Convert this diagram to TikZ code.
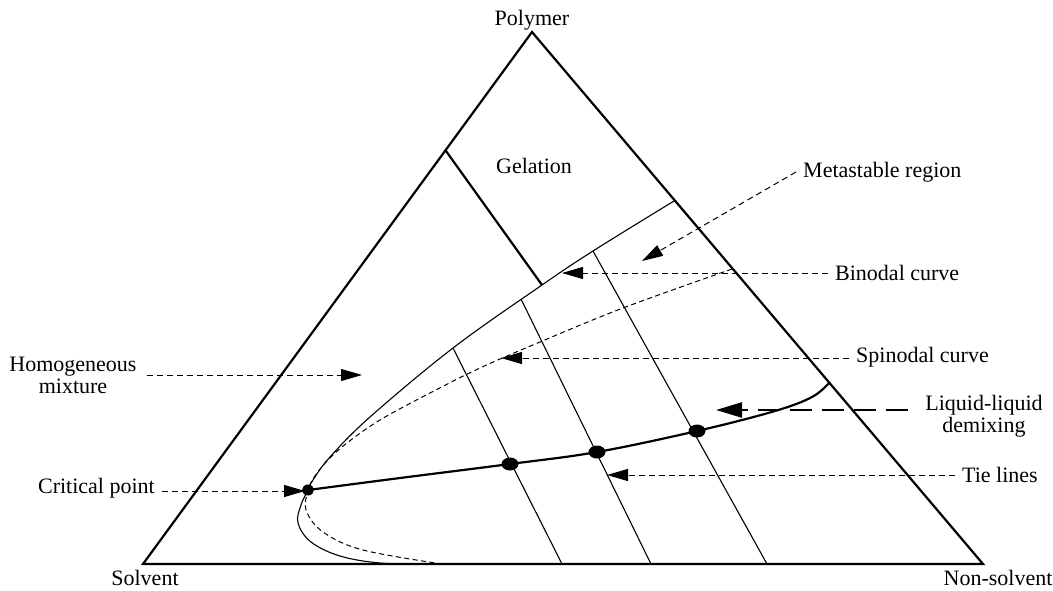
\documentclass[tikz,border=0pt]{standalone}
\usepackage{fontspec}
\setmainfont{Liberation Serif}
\usetikzlibrary{arrows.meta}
\begin{document}
\begin{tikzpicture}[x=1pt,y=-1pt,
  lbl/.style={font=\fontsize{22}{22}\selectfont, inner sep=7pt},
  sidel/.style={line width=2.2pt, line join=miter},
  thinl/.style={line width=1.1pt},
  darrow/.style={line width=1pt, dash pattern=on 6pt off 4pt, -{Triangle[length=21pt,width=12pt]}},
  bigarrow/.style={line width=2.4pt, dash pattern=on 22pt off 10pt, -{Triangle[length=26pt,width=15pt]}}
]
\useasboundingbox (0,0) rectangle (1053,590);
% vertices
\coordinate (P) at (532,32);
\coordinate (S) at (143,564);
\coordinate (N) at (983,564);
\draw[sidel] (S) -- (P) -- (N) -- cycle;
% gelation line
\coordinate (g1) at (446,151);
\coordinate (g2) at (542,285);
\draw[sidel] (g1) -- (g2);
% binodal curve
\draw[thinl] plot[smooth, tension=0.6] coordinates {(674,201) (593,251) (542,285) (453,348) (370,417) (330,457) (313,480) (308,490) (301,505) (298,523) (311,542) (340,556) (380,563) (428,564)};
% spinodal curve
\draw[line width=1pt, dash pattern=on 5pt off 3.5pt] plot[smooth, tension=0.6] coordinates {(732,269) (623,308) (540,342) (480,368) (430,393) (380,420) (347,443) (327,461) (313,479) (308,491) (306,510) (323,532) (363,550) (442,564)};
% tie lines
\coordinate (t1a) at (453,348); \coordinate (t1b) at (562,564);
\coordinate (t2a) at (521,299); \coordinate (t2b) at (651,564);
\coordinate (t3a) at (593,251); \coordinate (t3b) at (767,564);
\draw[thinl] (t1a) -- (t1b);
\draw[thinl] (t2a) -- (t2b);
\draw[thinl] (t3a) -- (t3b);
% liquid-liquid demixing curve
\coordinate (cp) at (308,490);
\coordinate (d1) at (510,464);
\coordinate (d2) at (597,452);
\coordinate (d3) at (697,431);
\draw[line width=2.2pt] plot[smooth, tension=0.6] coordinates {(308,490) (400,478) (510,464) (597,452) (697,431) (775,411) (812,397) (829,383)};
\fill (cp) ellipse (6pt and 5.5pt);
\fill (d1) ellipse (8.5pt and 6.5pt);
\fill (d2) ellipse (8.5pt and 6.5pt);
\fill (d3) ellipse (8.5pt and 6.5pt);
% labels
\node[lbl] (poly) at (532,20) {Polymer};
\node[lbl] (gel) at (534,166) {Gelation};
\node[lbl, anchor=west] (meta) at (796,172) {Metastable region};
\node[lbl, anchor=west] (bino) at (828,273) {Binodal curve};
\node[lbl, anchor=west] (spino) at (849,357) {Spinodal curve};
\node[lbl, align=center] (ll) at (984,416) {Liquid-liquid\\demixing};
\node[lbl, anchor=west] (tie) at (955,475) {Tie lines};
\node[lbl, align=center] (homo) at (73,375) {Homogeneous\\mixture};
\node[lbl, anchor=east] (crit) at (162,488) {Critical point};
\node[lbl] (solv) at (145,578) {Solvent};
\node[lbl] (nons) at (998,578) {Non-solvent};
% arrow tips
\coordinate (metaT) at (642,261);
\coordinate (binoT) at (562,273);
\coordinate (spinoT) at (501,358);
\coordinate (llT) at (716,410);
\coordinate (tieT) at (607,475);
\coordinate (homoT) at (362,375);
\coordinate (critT) at (305,491);
\draw[darrow] (meta.west) -- (metaT);
\draw[darrow] (bino.west) -- (binoT);
\draw[darrow] (spino.west |- spinoT) -- (spinoT);
\draw[bigarrow, shorten <=10pt] (ll.west |- llT) -- (llT);
\draw[darrow] (tie.west |- tieT) -- (tieT);
\draw[darrow, shorten <=3pt] (homo.east |- homoT) -- (homoT);
\draw[darrow] (crit.east |- critT) -- (critT);
\end{tikzpicture}
\end{document}
